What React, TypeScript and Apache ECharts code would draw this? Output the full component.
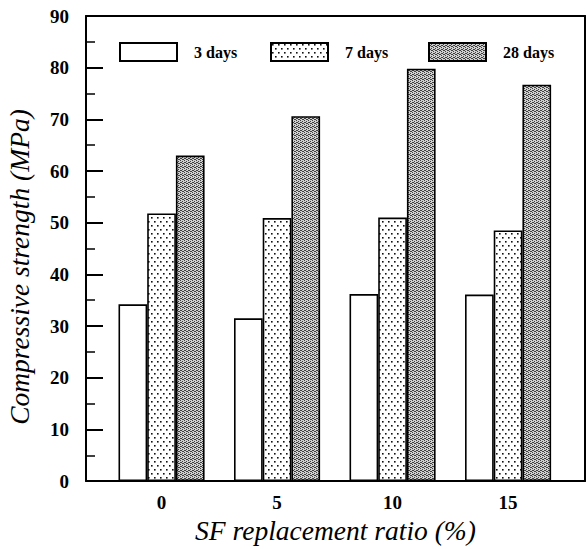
import React, { useEffect, useRef } from "react";
import * as echarts from "echarts";

const categories = [0, 5, 10, 15];
const seriesNames = ["3 days", "7 days", "28 days"];
const days3 = [34.2, 31.5, 36.2, 36.1];
const days7 = [51.8, 50.9, 51.0, 48.5];
const days28 = [63.0, 70.6, 79.8, 76.7];
const yTicks = [0, 10, 20, 30, 40, 50, 60, 70, 80, 90];
const xTitle = "SF replacement ratio (%)";
const yTitle = "Compressive strength (MPa)";

const FONT = "'Liberation Serif', 'DejaVu Serif', serif";

function makePattern(kind: "sparse" | "dense") {
  const c = document.createElement("canvas");
  if (kind === "sparse") {
    c.width = 6;
    c.height = 8;
    const g = c.getContext("2d")!;
    g.fillStyle = "#ffffff";
    g.fillRect(0, 0, 6, 8);
    g.fillStyle = "#111111";
    g.fillRect(1, 1, 1.6, 1.6);
    g.fillRect(4, 5, 1.6, 1.6);
  } else {
    c.width = 4;
    c.height = 4;
    const g = c.getContext("2d")!;
    g.fillStyle = "#cfcfcf";
    g.fillRect(0, 0, 4, 4);
    g.fillStyle = "#404040";
    g.fillRect(0, 0, 1, 1);
    g.fillRect(2, 1, 1, 1);
    g.fillRect(1, 2, 1, 1);
    g.fillRect(3, 3, 1, 1);
    g.fillRect(2, 3, 1, 1);
    g.fillRect(0, 2, 1, 1);
  }
  return {
    image: c.toDataURL(),
    repeat: "repeat",
    imageWidth: c.width,
    imageHeight: c.height,
  } as any;
}

export default function App() {
  const ref = useRef<HTMLDivElement>(null);
  useEffect(() => {
    if (!ref.current) return;
    const chart = echarts.init(ref.current, undefined, { renderer: "svg" });
    const fills = ["#ffffff", makePattern("sparse"), makePattern("dense")];
    const values = [days3, days7, days28];
    const legendLefts = [119, 270, 428];
    const option: any = {
      animation: false,
      backgroundColor: "#ffffff",
      grid: { left: 86, right: 2, top: 16, bottom: 62, containLabel: false },
      legend: seriesNames.map((n, i) => ({
        data: [n],
        left: legendLefts[i],
        top: 42,
        itemWidth: 57,
        itemHeight: 18,
        padding: 0,
        icon: "rect",
        selectedMode: false,
        textStyle: {
          fontFamily: FONT,
          fontWeight: "bold",
          fontSize: 16,
          color: "#000",
          padding: [0, 0, 0, 12],
        },
      })),
      graphic: [
        {
          type: "text",
          x: 19,
          y: 267,
          rotation: Math.PI / 2,
          style: {
            text: yTitle,
            fontFamily: FONT,
            fontStyle: "italic",
            fontSize: 27.5,
            fill: "#000",
            align: "center",
            verticalAlign: "middle",
          },
        },
      ],
      xAxis: [
        {
          type: "value",
          min: -3.27,
          max: 18.33,
          position: "bottom",
          name: xTitle,
          nameLocation: "middle",
          nameGap: 30,
          nameTextStyle: {
            fontFamily: FONT,
            fontStyle: "italic",
            fontSize: 27.5,
            color: "#000",
          },
          axisLine: { show: true, onZero: false, lineStyle: { color: "#000", width: 2 } },
          axisTick: { show: false },
          splitLine: { show: false },
          axisLabel: {
            customValues: categories,
            fontFamily: FONT,
            fontWeight: "bold",
            fontSize: 19,
            color: "#000",
            margin: 12,
          },
        },
        {
          type: "value",
          min: -3.27,
          max: 18.33,
          position: "top",
          axisLine: { show: true, onZero: false, lineStyle: { color: "#000", width: 2 } },
          axisTick: { show: false },
          axisLabel: { show: false },
          splitLine: { show: false },
        },
      ],
      yAxis: [
        {
          type: "value",
          min: 0,
          max: 90,
          interval: 10,
          position: "left",
          axisLine: { show: true, onZero: false, lineStyle: { color: "#000", width: 2 } },
          axisTick: { show: true, inside: true, length: 17, lineStyle: { color: "#000", width: 2 } },
          minorTick: { show: true, splitNumber: 2, length: 9, lineStyle: { color: "#000", width: 1.5 } },
          splitLine: { show: false },
          axisLabel: {
            customValues: yTicks,
            fontFamily: FONT,
            fontWeight: "bold",
            fontSize: 19,
            color: "#000",
            margin: 17,
          },
        },
        {
          type: "value",
          min: 0,
          max: 90,
          interval: 10,
          position: "right",
          axisLine: { show: true, onZero: false, lineStyle: { color: "#000", width: 2 } },
          axisTick: { show: false },
          axisLabel: { show: false },
          splitLine: { show: false },
        },
      ],
      series: seriesNames.map((n, i) => ({
        name: n,
        type: "bar",
        xAxisIndex: 0,
        yAxisIndex: 0,
        barWidth: 28.7,
        barGap: "0%",
        data: categories.map((c, j) => [c, values[i][j]]),
        itemStyle: { color: fills[i], borderColor: "#000", borderWidth: 1.6 },
      })),
    };
    chart.setOption(option);
    return () => chart.dispose();
  }, []);
  return (
    <div
      ref={ref}
      style={{ position: "fixed", left: 0, top: 0, width: 587, height: 549, background: "#fff" }}
    />
  );
}
